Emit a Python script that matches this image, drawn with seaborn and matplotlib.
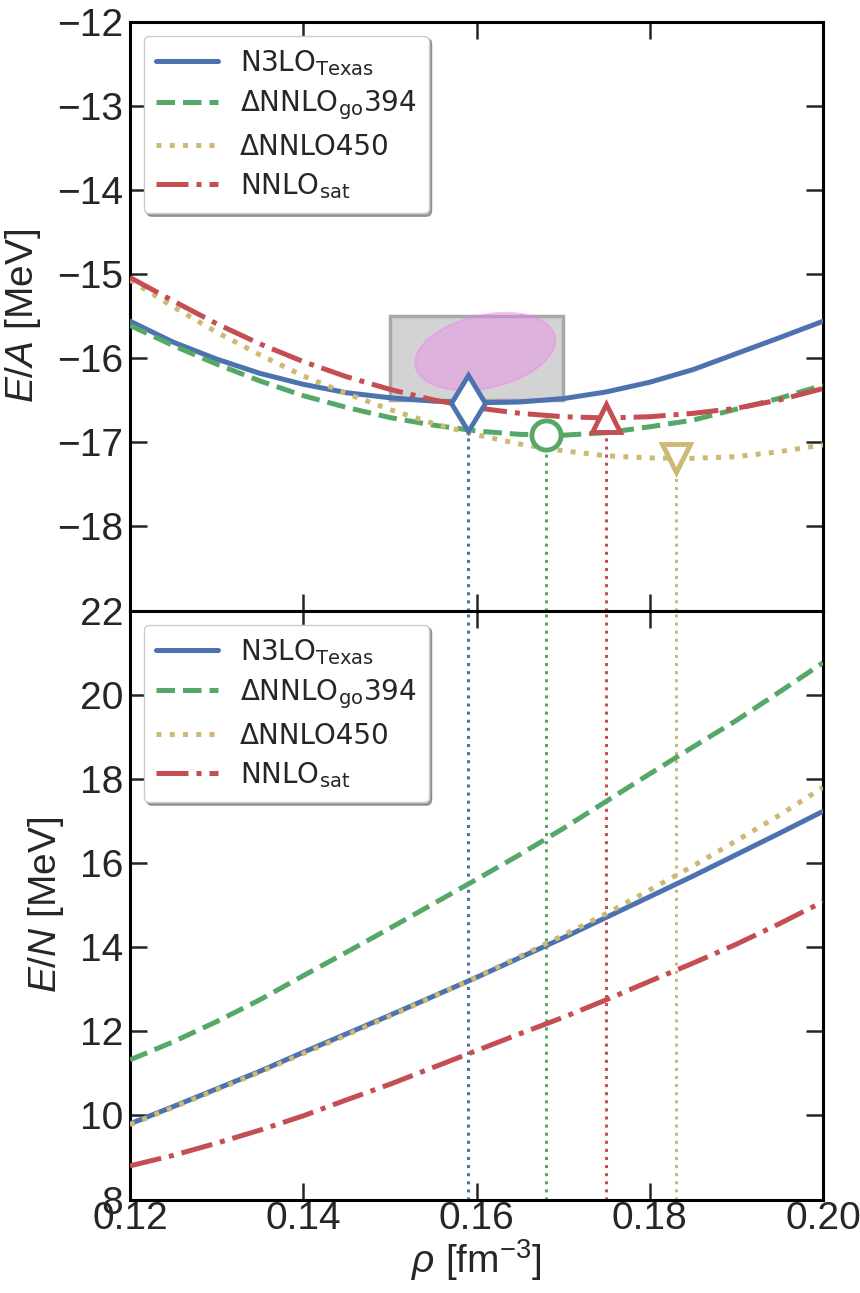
import numpy as np
import pandas as pd
import matplotlib
matplotlib.use("Agg")
import matplotlib.pyplot as plt
from matplotlib.patches import Rectangle
import seaborn as sns

# ---------------- data ----------------
rho = [0.120, 0.125, 0.130, 0.135, 0.140, 0.145, 0.150, 0.155, 0.160,
       0.165, 0.170, 0.175, 0.180, 0.185, 0.190, 0.195, 0.200]

names = ["N3LO$_{\\mathrm{Texas}}$", "\u0394NNLO$_{\\mathrm{go}}$394",
         "\u0394NNLO450", "NNLO$_{\\mathrm{sat}}$"]

# symmetric nuclear matter E/A [MeV]
ea_n3lo = [-15.56, -15.81, -16.01, -16.18, -16.31, -16.41, -16.47, -16.51, -16.53,
           -16.52, -16.48, -16.40, -16.285, -16.135, -15.945, -15.755, -15.56]
ea_go394 = [-15.61, -15.85, -16.07, -16.27, -16.445, -16.585, -16.705, -16.795, -16.865,
            -16.905, -16.915, -16.885, -16.815, -16.735, -16.605, -16.475, -16.32]
ea_450 = [-15.07, -15.39, -15.69, -15.96, -16.21, -16.42, -16.61, -16.775, -16.91,
          -17.02, -17.10, -17.16, -17.185, -17.19, -17.17, -17.11, -17.03]
ea_sat = [-15.04, -15.32, -15.59, -15.83, -16.04, -16.22, -16.37, -16.495, -16.59,
          -16.655, -16.695, -16.71, -16.695, -16.655, -16.595, -16.495, -16.36]

# pure neutron matter E/N [MeV]
en_n3lo = [9.80, 10.21, 10.63, 11.05, 11.50, 11.94, 12.38, 12.83, 13.28,
           13.75, 14.22, 14.71, 15.20, 15.69, 16.20, 16.71, 17.23]
en_go394 = [11.32, 11.75, 12.23, 12.75, 13.32, 13.88, 14.45, 15.03, 15.61,
            16.20, 16.82, 17.47, 18.12, 18.76, 19.39, 20.07, 20.76]
en_450 = [9.78, 10.19, 10.61, 11.03, 11.47, 11.91, 12.36, 12.82, 13.29,
          13.78, 14.28, 14.80, 15.36, 15.93, 16.53, 17.14, 17.80]
en_sat = [8.80, 9.05, 9.34, 9.65, 9.99, 10.37, 10.74, 11.14, 11.54,
          11.94, 12.33, 12.75, 13.19, 13.62, 14.07, 14.56, 15.08]

# saturation points
sat_rho = [0.159, 0.168, 0.175, 0.183]
sat_e = [-16.53, -16.91, -16.71, -17.18]

# empirical saturation box and ellipse
box_rho = [0.150, 0.170]
box_e = [-16.5, -15.5]
ell_center = (0.161, -15.92)
ell_half = (0.00808, 0.46)   # half extents in rho and E
ell_corr = 0.292

colors = ["#4C72B0", "#55A868", "#CCB974", "#C44E52"]
styles = ["-", "--", ":", "-."]
marker_order_color = ["#4C72B0", "#55A868", "#C44E52", "#CCB974"]
marker_order_shape = ["d", "o", "^", "v"]
marker_order_size = [29, 21, 20, 20]

# ---------------- style ----------------
sns.set_style("ticks")
plt.rcParams["font.family"] = ["Liberation Sans", "DejaVu Sans"]
plt.rcParams["mathtext.fontset"] = "custom"
plt.rcParams["mathtext.rm"] = "Liberation Sans"
plt.rcParams["mathtext.it"] = "Liberation Sans:italic"
plt.rcParams["axes.linewidth"] = 2.2
plt.rcParams["axes.edgecolor"] = "black"

fig, (ax1, ax2) = plt.subplots(2, 1, figsize=(8.6, 12.93), dpi=100, sharex=True)
fig.subplots_adjust(left=0.1512, right=0.957, top=0.9832, bottom=0.0723, hspace=0)

top_sets = [ea_n3lo, ea_go394, ea_450, ea_sat]
bot_sets = [en_n3lo, en_go394, en_450, en_sat]

# top panel
ax1.add_patch(Rectangle((box_rho[0], box_e[0]), box_rho[1] - box_rho[0], box_e[1] - box_e[0],
                        facecolor="#D3D3D3", edgecolor="#A8A8A8", lw=2.5, zorder=1))
t = np.linspace(0, 2 * np.pi, 200)
sx, sy = ell_half
cov = np.array([[sx * sx, ell_corr * sx * sy], [ell_corr * sx * sy, sy * sy]])
L = np.linalg.cholesky(cov)
pts = L @ np.vstack([np.cos(t), np.sin(t)])
ax1.fill(ell_center[0] + pts[0], ell_center[1] + pts[1], facecolor="violet",
         edgecolor="violet", alpha=0.4, lw=1.5, zorder=2)

for vals, c, ls, nm in zip(top_sets, colors, styles, names):
    sns.lineplot(x=rho, y=vals, ax=ax1, color=c, linestyle=ls, lw=3.6, label=nm, zorder=3)

for r, e, c, m, ms in zip(sat_rho, sat_e, marker_order_color, marker_order_shape, marker_order_size):
    ax1.vlines(r, -19, e, colors=c, linestyles=":", lw=2.2, zorder=2)
    ax2.axvline(r, color=c, ls=":", lw=2.2, zorder=1)
    ax1.plot([r], [e], marker=m, ms=ms, mfc="white", mec=c, mew=3.5, ls="none", zorder=6)

for vals, c, ls, nm in zip(bot_sets, colors, styles, names):
    sns.lineplot(x=rho, y=vals, ax=ax2, color=c, linestyle=ls, lw=3.6, label=nm, zorder=3)

ax1.set_xlim(0.12, 0.20)
ax1.set_ylim(-19, -12)
ax2.set_ylim(8, 22)
ax1.set_yticks([-18, -17, -16, -15, -14, -13, -12])
ax2.set_yticks([8, 10, 12, 14, 16, 18, 20, 22])
ax2.set_xticks([0.12, 0.14, 0.16, 0.18, 0.20])
ax2.set_xticklabels(["0.12", "0.14", "0.16", "0.18", "0.20"])

for ax in (ax1, ax2):
    ax.tick_params(direction="in", which="both", top=True, right=True,
                   length=12, width=1.8, labelsize=28, pad=5)
ax2.tick_params(axis="x", pad=1)
ax1.tick_params(labelbottom=False)

lab_font = dict(family=["Liberation Sans", "DejaVu Sans"], size=28)
ax1.set_ylabel("$E/A$ [MeV]", fontdict=lab_font, labelpad=10)
ax2.set_ylabel("$E/N$ [MeV]", fontdict=lab_font, labelpad=10)
ax2.set_xlabel("$\\rho$ [fm$^{-3}$]", fontdict=lab_font, labelpad=0)
ax1.set_xlabel("")

for ax in (ax1, ax2):
    leg = ax.legend(loc="upper left", shadow=True, frameon=True, fancybox=True,
                    framealpha=1, edgecolor="#CCCCCC",
                    prop={"family": "DejaVu Sans", "size": 20},
                    handlelength=2.2, labelspacing=0.38, borderpad=0.45)
    for txt in leg.get_texts():
        txt.set_math_fontfamily("dejavusans")
    leg.set_zorder(10)

fig.savefig("out.png", dpi=100)
